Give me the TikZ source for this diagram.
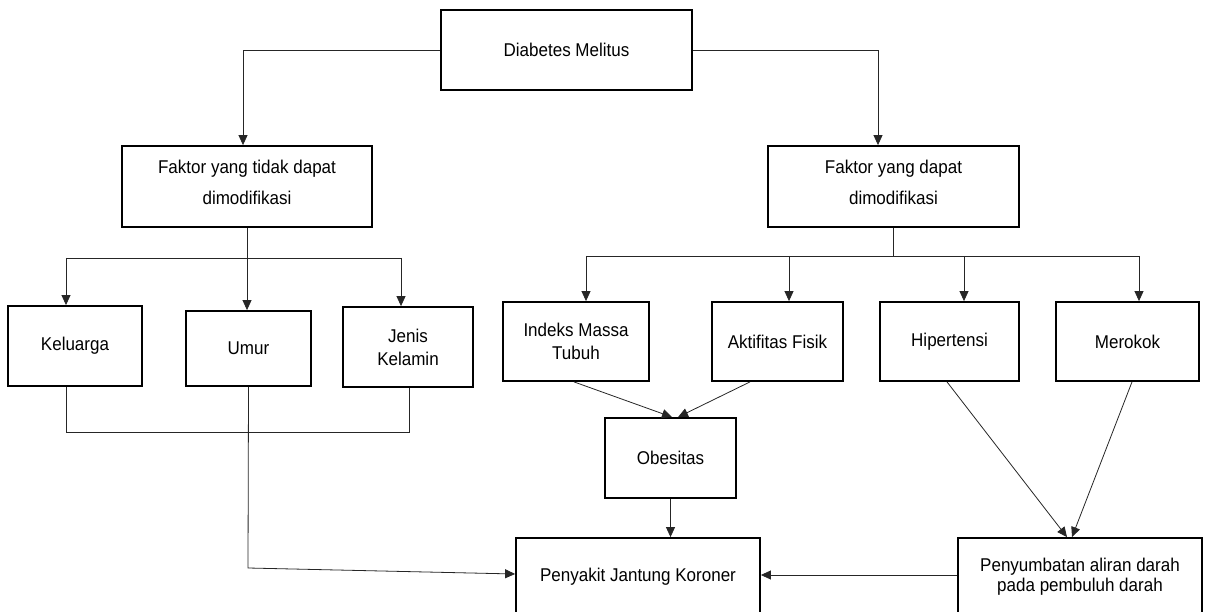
\documentclass[tikz,border=0pt]{standalone}
\usepackage{fontspec}
\setmainfont[FakeStretch=0.92]{Liberation Sans}
\usetikzlibrary{arrows.meta}
\newcommand{\kotak}[3][]{\node[shape=rectangle, draw=black, line width=1.8pt, align=center, inner sep=0pt, minimum width=#2pt, minimum height=#3pt, #1]}

\begin{document}
\begin{tikzpicture}[x=1pt, y=-1pt, font=\fontsize{18.5}{23}\selectfont,
		panah/.style={draw=black!85, line width=0.8pt, -{Triangle[length=10pt,width=9pt]}},
		garis/.style={draw=black!85, line width=0.8pt}]
	\useasboundingbox (0,0) rectangle (1207,612);
	% kotak
	\kotak{251}{80} (dm) at (566.5,50) {Diabetes Melitus};
	\kotak[text depth=9pt]{250}{81} (ftd) at (247,186.5) {Faktor yang tidak dapat\\[8pt]dimodifikasi};
	\kotak[text depth=9pt]{251}{81} (fd) at (893.5,186.5) {Faktor yang dapat\\[8pt]dimodifikasi};
	\kotak{134}{80} (kel) at (75,346) {Keluarga};
	\kotak{125}{75} (umur) at (248.5,348.5) {Umur};
	\kotak{130}{80} (jk) at (408,347) {Jenis\\Kelamin};
	\kotak{146}{79} (imt) at (576,341.5) {Indeks Massa\\Tubuh};
	\kotak{131}{79} (af) at (777.5,341.5) {Aktifitas Fisik};
	\kotak{139}{79} (hip) at (949.5,341.5) {Hipertensi};
	\kotak{143}{79} (mer) at (1127.5,341.5) {Merokok};
	\kotak{131}{80} (obe) at (670.5,458) {Obesitas};
	\kotak{244}{78} (pjk) at (638,577) {Penyakit Jantung Koroner};
	\kotak{244}{78} (pen) at (1080,577) {Penyumbatan aliran darah\\[-3pt]pada pembuluh darah};
	% dari diabetes
	\draw[panah] (dm.west) -| ([xshift=-4pt]ftd.north);
	\draw[panah] (dm.east) -| ([xshift=-15.5pt]fd.north);
	% faktor tidak dapat dimodifikasi
	\coordinate (tkel) at (66,258);
	\coordinate (tjk) at (401,258);
	\draw[panah] (ftd.south) -- (ftd.south |- umur.north);
	\draw[garis] (tkel) -- (tjk);
	\draw[panah] (tkel) -- (tkel |- kel.north);
	\draw[panah] (tjk) -- (tjk |- jk.north);
	\coordinate (jb) at (409,432);
	\draw[garis] (kel.south -| tkel) |- (jb) -- (jb |- jk.south);
	\coordinate (ub) at (248,568);
	\draw[panah] (umur.south) -- (ub) -- ([yshift=3pt]pjk.west);
	% faktor yang dapat dimodifikasi
	\coordinate (tka) at (586,256);
	\coordinate (tki) at (1139,256);
	\draw[garis] (fd.south) -- (fd.south |- tka);
	\draw[garis] (tka) -- (tki);
	\foreach \n/\x in {imt/586, af/789, hip/964, mer/1139} {
		\coordinate (t\n) at (\x,256);
		\draw[panah] (t\n) -- (t\n |- \n.north);
	}
	\draw[panah] ([xshift=-2pt]imt.south) -- ([xshift=1.5pt]obe.north);
	\draw[panah] ([xshift=-27.5pt]af.south) -- ([xshift=7.5pt]obe.north);
	\draw[panah] (obe.south) -- (obe.south |- pjk.north);
	\draw[panah] ([xshift=-2.5pt]hip.south) -- ([xshift=-13pt]pen.north);
	\draw[panah] ([xshift=4.5pt]mer.south) -- ([xshift=-8pt]pen.north);
	\draw[panah] ([yshift=2pt]pen.west) -- ([yshift=2pt]pjk.east);
\end{tikzpicture}
\end{document}
